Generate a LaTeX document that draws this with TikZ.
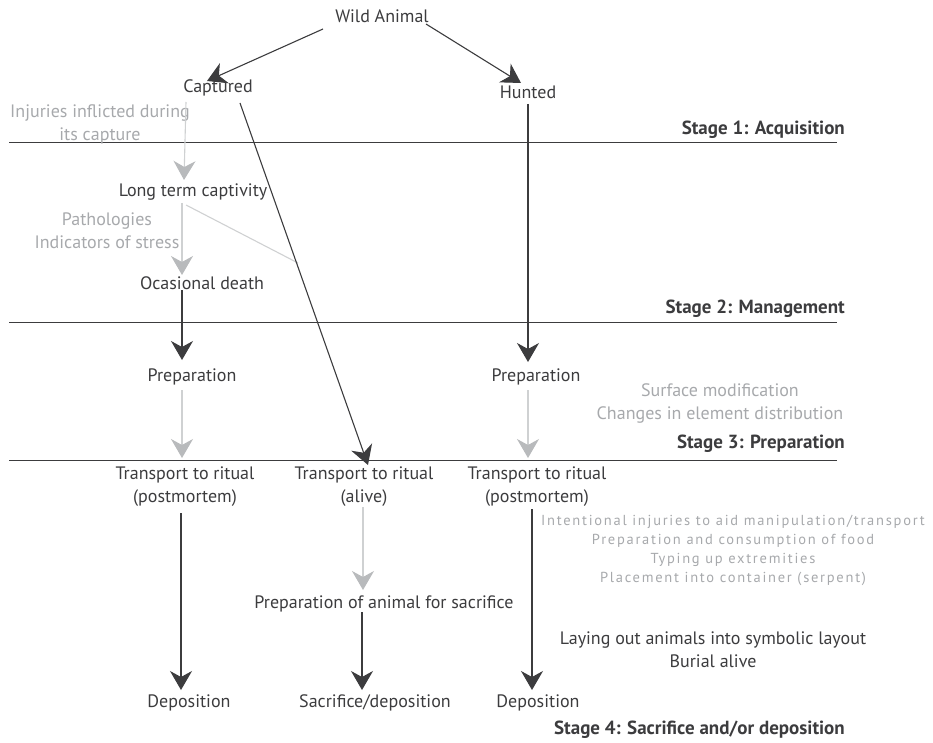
\documentclass[tikz,border=0pt]{standalone}
\usepackage{fontspec}
\setmainfont{PT Sans}
\newfontfamily\spacedfont[LetterSpace=12]{PT Sans}
\usetikzlibrary{arrows.meta,calc}
\definecolor{dk}{HTML}{3C3C3E}
\definecolor{lt}{HTML}{A7A9AC}
\definecolor{ln}{HTML}{CFD1D2}
\definecolor{ah}{HTML}{B8BABC}
\begin{document}
\begin{tikzpicture}[x=1pt,y=-1pt,
  txt/.style={inner sep=0pt, text=dk, font=\fontsize{18}{23}\selectfont, align=center},
  note/.style={txt, text=lt},
  smallnote/.style={inner sep=0pt, text=lt, font=\fontsize{14.5}{19}\selectfont\spacedfont, align=center},
  stagelbl/.style={inner sep=0pt, text=dk, font=\fontsize{19}{20}\selectfont\bfseries, anchor=east},
  stageline/.style={draw=dk, line width=1pt},
  darr/.style={draw=dk, line width=1.1pt, -{Stealth[length=19pt,width=22pt,inset=6pt,color=dk]}},
  larr/.style={draw=ln, line width=1.1pt, -{Stealth[length=19pt,width=22pt,inset=6pt,color=ah]}},
  lline/.style={draw=ln, line width=1.1pt}
]
\useasboundingbox (0,0) rectangle (933,743);

% stage lines
\coordinate (s1l) at (9,143);  \coordinate (s1r) at (837,143);
\coordinate (s2l) at (9,322);  \coordinate (s2r) at (837,322);
\coordinate (s3l) at (9,460);  \coordinate (s3r) at (837,460);
\draw[stageline] (s1l) -- (s1r);
\draw[stageline] (s2l) -- (s2r);
\draw[stageline] (s3l) -- (s3r);

\node[stagelbl] (st1) at (845,130) {Stage 1: Acquisition};
\node[stagelbl] (st2) at (845,309) {Stage 2: Management};
\node[stagelbl] (st3) at (845,444) {Stage 3: Preparation};
\node[stagelbl] (st4) at (845,730) {Stage 4: Sacrifice and/or deposition};

% nodes
\node[txt] (wild) at (382,16) {Wild Animal};
\node[txt] (cap) at (218,88) {Captured};
\node[txt] (hunt) at (528,92) {Hunted};
\node[note] (inj) at (100,124) {Injuries inflicted during\\its capture};
\node[txt] (ltc) at (193,192) {Long term captivity};
\node[note] (patho) at (107,231) {Pathologies\\Indicators of stress};
\node[txt] (ocd) at (202,283) {Ocasional death};
\node[txt] (prepL) at (192,377) {Preparation};
\node[txt] (prepR) at (536,377) {Preparation};
\node[note] (surf) at (720,403) {Surface modification\\Changes in element distribution};
\node[txt] (trL) at (185,487) {Transport to ritual\\(postmortem)};
\node[txt] (trM) at (364,487) {Transport to ritual\\(alive)};
\node[txt] (trR) at (537,487) {Transport to ritual\\(postmortem)};
\node[smallnote] (intent) at (733,550) {Intentional injuries to aid manipulation/transport\\Preparation and consumption of food\\Typing up extremities\\Placement into container (serpent)};
\node[txt] (psac) at (384,604) {Preparation of animal for sacrifice};
\node[txt] (lay) at (713,650) {Laying out animals into symbolic layout\\Burial alive};
\node[txt] (depL) at (189,703) {Deposition};
\node[txt] (sacd) at (375,703) {Sacrifice/deposition};
\node[txt] (depR) at (538,703) {Deposition};

% connectors
\draw[darr] ($(wild)+(-59,13)$) -- ($(cap)+(-11,-7)$);
\draw[darr] ($(wild)+(44,8)$) -- ($(hunt)+(-7,-9)$);
\draw[darr] ($(hunt)+(0,12)$) -- ($(prepR)+(-8,-15)$);
\draw[larr] ($(cap)+(-32,14)$) -- ($(ltc)+(-9,-12)$);
\draw[larr] ($(ltc)+(-11,11)$) -- ($(ocd)+(-20,-8)$);
\draw[lline] ($(ltc)+(-7,13)$) -- ($(ltc)+(105,71)$);
\draw[darr] ($(ocd)+(-20,7)$) -- ($(prepL)+(-10,-17)$);
\draw[darr] ($(cap)+(22,15)$) -- ($(trM)+(4,-22)$);
\draw[larr] ($(prepL)+(-10,13)$) -- ($(trL)+(-3,-29)$);
\draw[larr] ($(prepR)+(-8,13)$) -- ($(trR)+(-9,-29)$);
\draw[darr] ($(trL)+(-4,26)$) -- ($(depL)+(-8,-13)$);
\draw[larr] ($(trM)+(-1,20)$) -- ($(psac)+(-21,-14)$);
\draw[darr] ($(psac)+(-22,8)$) -- ($(sacd)+(-13,-13)$);
\draw[darr] ($(trR)+(-5,22)$) -- ($(depR)+(-6,-13)$);
\end{tikzpicture}
\end{document}
